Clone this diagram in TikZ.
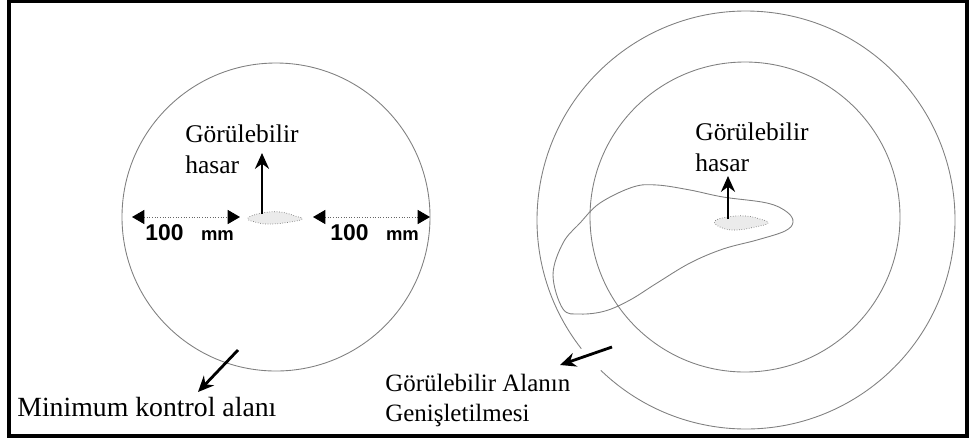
\documentclass[tikz,border=0pt]{standalone}
\usepackage{fontspec}
\setmainfont{Liberation Serif}
\setsansfont{Liberation Sans}
\usetikzlibrary{arrows.meta}
\tikzstyle{lbl}=[inner sep=0pt, align=left, font=\fontsize{14.5}{18}\selectfont]
\tikzstyle{dimlbl}=[inner sep=0pt, font=\sffamily\bfseries\fontsize{13}{15}\selectfont]
\tikzstyle{ring}=[draw=black!50, line width=0.5pt]
\tikzstyle{spot}=[draw=black!55, densely dotted, fill=black!8, line width=0.4pt]
\tikzstyle{pointer}=[line width=1.6pt, -{Stealth[length=9pt,width=8pt]}]
\tikzstyle{dim}=[black!60, densely dotted, line width=0.5pt, {Triangle[length=7pt,width=8pt,black]}-{Triangle[length=7pt,width=8pt,black]}]

\begin{document}
\begin{tikzpicture}[x=0.02cm, y=-0.02cm]
				\useasboundingbox (0,0) rectangle (969,441);
				\draw[line width=2pt] (9,1.5) rectangle (967,436);
				% left: minimum control area
				\draw[ring] (276,217) circle (154);
				\draw[spot] plot[smooth cycle, tension=0.8] coordinates {(248,218) (262,213) (280,212) (295,216) (302,219) (290,222) (270,224) (255,222)};
				\coordinate (ldimA) at (132,217);
				\coordinate (ldimB) at (240,217);
				\coordinate (rdimA) at (313,217);
				\coordinate (rdimB) at (430,217);
				\draw[dim] (ldimA) -- (ldimB);
				\draw[dim] (rdimA) -- (rdimB);
				\node[dimlbl, anchor=base west] (ldist) at (145,240) {100\hspace{10pt}{\fontsize{10.5}{12}\selectfont mm}};
				\node[dimlbl, anchor=base west] (rdist) at (330,240) {100\hspace{10pt}{\fontsize{10.5}{12}\selectfont mm}};
				\node[lbl, anchor=north west] (lhasar) at (185,124) {Görülebilir\\hasar};
				\coordinate (lspot) at (262,214);
				\coordinate (ltip) at (262,153);
				\draw[pointer] (lspot) -- (ltip);
				\node[lbl, anchor=base west, font=\fontsize{15.8}{19}\selectfont] (minarea) at (17,416) {Minimum kontrol alanı};
				\coordinate (mtail) at (238,350);
				\coordinate (mtip) at (198,392);
				\draw[pointer] (mtail) -- (mtip);
				% right: extended visible area
				\draw[ring] (746,220) ++(142:209) arc[start angle=142, end angle=494, radius=209];
				\draw[ring] (745,217) circle (155);
				\draw[ring] plot[smooth cycle, tension=0.6] coordinates {(553,275) (563,243) (580,223) (600,203) (633,187) (657,185) (690,190) (723,197) (767,203) (787,212) (793,222) (785,231) (757,240) (723,249) (690,263) (657,283) (630,300) (605,311) (580,314) (563,309)};
				\draw[spot] plot[smooth cycle, tension=0.8] coordinates {(715,221) (728,217) (745,216) (760,219) (768,223) (755,227) (735,230) (720,227)};
				\node[lbl, anchor=north west] (rhasar) at (695,122) {Görülebilir\\hasar};
				\coordinate (rspot) at (728,219);
				\coordinate (rtip) at (728,176);
				\draw[pointer] (rspot) -- (rtip);
				\node[lbl, anchor=north west, font=\fontsize{14.2}{17}\selectfont] (extarea) at (385,374) {Görülebilir Alanın\\Genişletilmesi};
				\coordinate (etail) at (612,347);
				\coordinate (etip) at (560,365);
				\draw[pointer] (etail) -- (etip);
			\end{tikzpicture}
\end{document}
